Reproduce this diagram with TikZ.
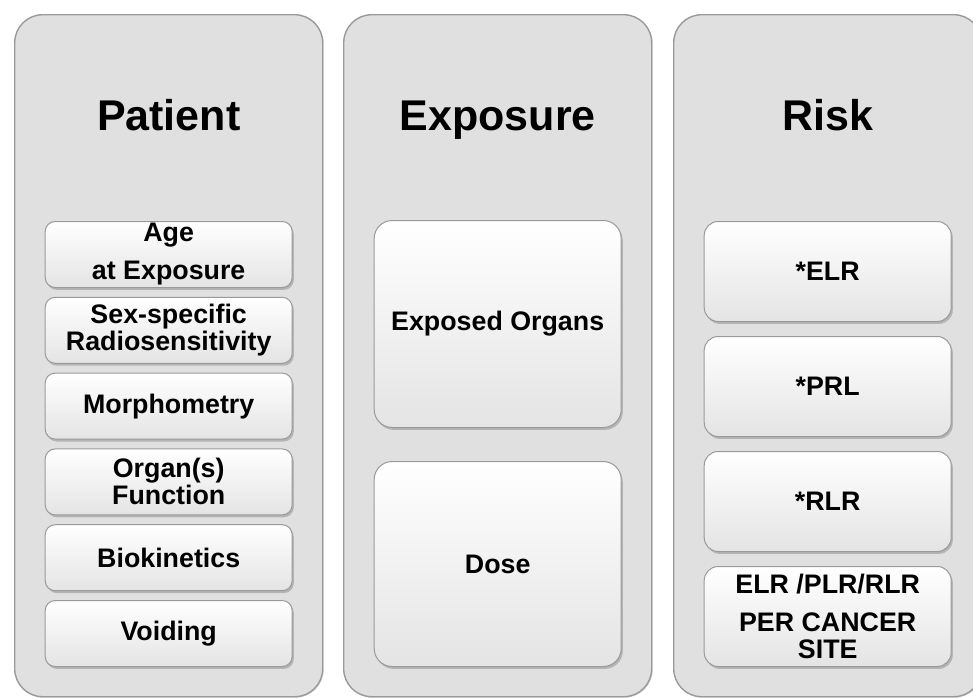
\documentclass[tikz,border=0pt]{standalone}
\usepackage{fontspec}
\setmainfont{Liberation Sans}
\usetikzlibrary{positioning,shadows}
\definecolor{fondo}{HTML}{E0E0E0}
\definecolor{borde}{HTML}{9A9A9A}
\definecolor{base}{HTML}{E4E4E4}
\tikzset{
  panel/.style={draw=borde,fill=fondo,line width=0.7pt,rounded corners=14pt,
    minimum width=154pt,minimum height=341pt,anchor=north west,
    drop shadow={shadow xshift=0.5pt,shadow yshift=-0.5pt,opacity=0.35}},
  titulo/.style={font=\fontsize{21.5}{24}\selectfont\bfseries,anchor=base},
  caja/.style={draw=borde,line width=0.5pt,rounded corners=#1,
    top color=white,middle color=white,bottom color=base,
    minimum width=123.5pt,align=center,inner sep=1pt,
    font=\fontsize{13.4}{13.5}\selectfont\bfseries,
    drop shadow={shadow xshift=0.8pt,shadow yshift=-1.2pt,opacity=0.45}},
  caja/.default=5pt
}

\begin{document}
\begin{tikzpicture}
	\useasboundingbox (0,0) rectangle (486.5pt,-348.5pt);

	\node[panel] (patient) at (7pt,-7pt) {};
	\node[panel] (exposure) at (171.5pt,-7pt) {};
	\node[panel] (risk) at (336.5pt,-7pt) {};

	\foreach \Valor/\Titulo in {patient/Patient,exposure/Exposure,risk/Risk} {
		\node[titulo] (t\Valor) at ([yshift=-58pt]\Valor.north) {\Titulo};
	}

	\foreach \Texto [count=\i] in {{Age\\[5.5pt]at Exposure},{Sex-specific\\Radiosensitivity},
		Morphometry,{Organ(s)\\Function},Biokinetics,Voiding} {
		\pgfmathsetmacro\Pos{103.5+(\i-1)*37.9}
		\node[caja,minimum height=33pt,below=\Pos pt of patient.north] (pac\i) {\Texto};
	}

	\node[caja=9pt,minimum height=103.5pt,below=103pt of exposure.north] (organs) {Exposed Organs};
	\node[caja=9pt,minimum height=102.5pt,below=16.5pt of organs] (dose) {Dose};

	\foreach \Texto [count=\i] in {*ELR,*PRL,*RLR,{ELR /PLR/RLR\\[5.5pt]PER CANCER\\SITE}} {
		\pgfmathsetmacro\Pos{103.5+(\i-1)*57.5}
		\node[caja=7pt,minimum height=50pt,below=\Pos pt of risk.north] (rsk\i) {\Texto};
	}
\end{tikzpicture}
\end{document}
